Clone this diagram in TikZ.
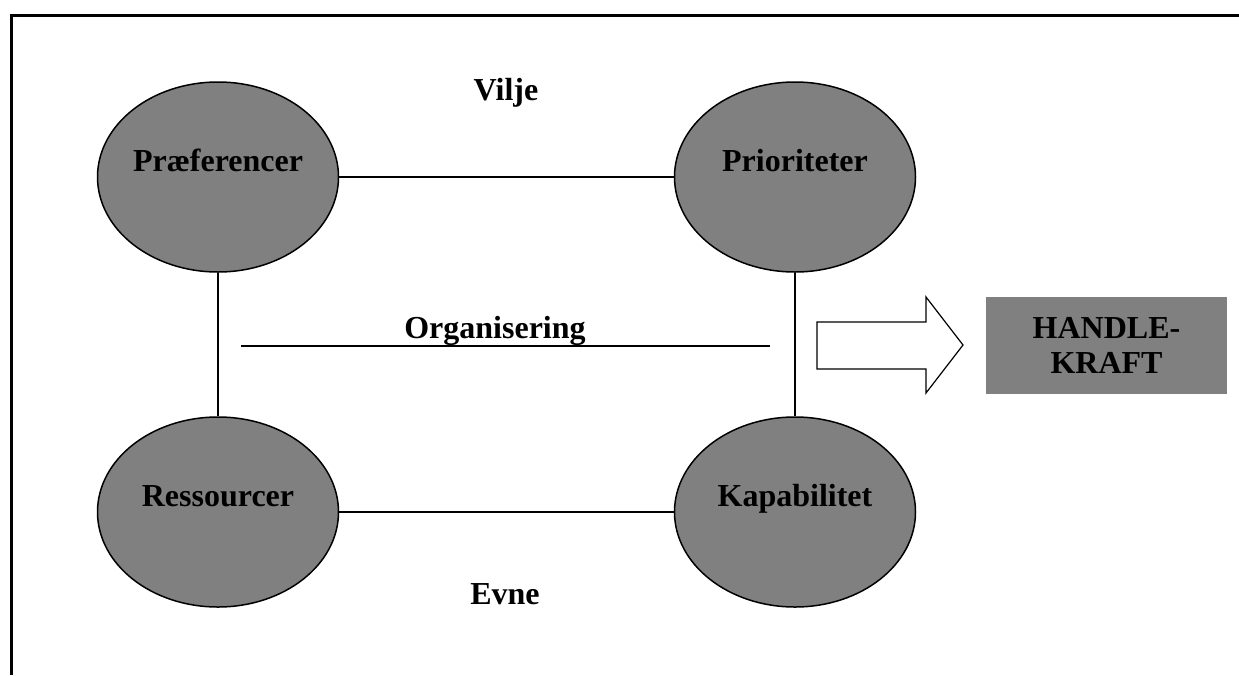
\documentclass[tikz,border=0pt]{standalone}
\usepackage{fontspec}
\setmainfont{Liberation Serif}
\usetikzlibrary{shapes.geometric}
\tikzset{
  factor/.style={ellipse, draw, line width=1.5pt, fill=gray, minimum width=241pt, minimum height=190pt, inner sep=0pt, text height=10pt, text depth=22pt},
  link/.style={line width=1.5pt},
  resultbox/.style={fill=gray, minimum width=241pt, minimum height=97pt, inner sep=0pt, align=center}
}
\begin{document}
\begin{tikzpicture}[x=1pt,y=-1pt,font=\fontsize{32}{35}\selectfont\bfseries]
  \useasboundingbox (0,0) rectangle (1239,675);
  % the frame (open at the bottom and right)
  \draw[line width=3pt] (1239,15) -- (11,15) -- (11,675);
  % the four factors
  \node[factor] (pref) at (218,177) {Præferencer};
  \node[factor] (prio) at (795,177) {Prioriteter};
  \node[factor] (ress) at (218,512) {Ressourcer};
  \node[factor] (kap) at (795,512) {Kapabilitet};
  % the links between them
  \draw[link] (pref) -- (prio);
  \draw[link] (ress) -- (kap);
  \draw[link] (pref) -- (ress);
  \draw[link] (prio) -- (kap);
  % the texts
  \node[anchor=base] (vilje) at (506,100) {Vilje};
  \node[anchor=base] (evne) at (505,604) {Evne};
  \node[anchor=base] (org) at (495,338) {Organisering};
  \coordinate (orgL) at (241,346);
  \coordinate (orgR) at (770,346);
  \draw[link] (orgL) -- (orgR);
  % the big arrow and the result
  \draw[line width=1.2pt, fill=white] (817,322) -- (926,322) -- (926,297) -- (963,345)
    -- (926,393) -- (926,369) -- (817,369) -- cycle;
  \node[resultbox] (handle) at (1106.5,345.5) {HANDLE-\\KRAFT};
\end{tikzpicture}
\end{document}
